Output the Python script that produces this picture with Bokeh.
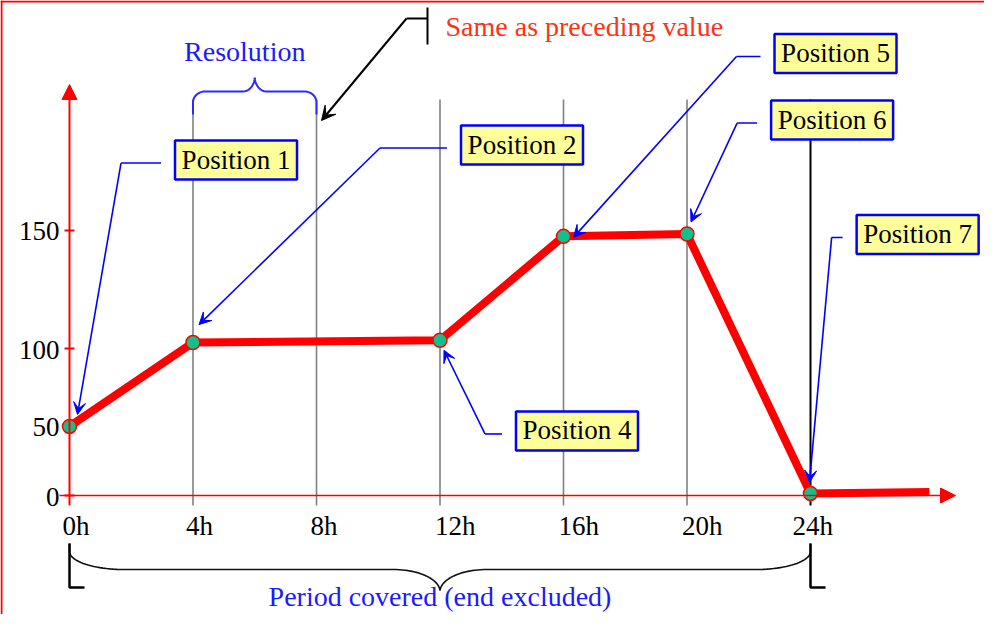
import numpy as np
from bokeh.plotting import figure
from bokeh.models import Range1d, Arrow, VeeHead, NormalHead
from bokeh.core.properties import value
from bokeh.embed import file_html
from bokeh.resources import INLINE

# ---------------- data ----------------
HOURS = [0, 4, 12, 16, 20, 24]
VALUES = [50, 102.5, 103.5, 147.5, 148.5, 1.5]
POSITION_LABELS = ["Position 1", "Position 2", "Position 4", "Position 5", "Position 6", "Position 7"]
TAIL_HOURS = [24, 27.85]
TAIL_VALUES = [1.5, 2.5]
X_TICKS = [0, 4, 8, 12, 16, 20, 24]
X_TICK_LABELS = ["0h", "4h", "8h", "12h", "16h", "20h", "24h"]
GRID_HOURS = [4, 8, 12, 16, 20]
PERIOD_END_HOUR = 24
Y_TICKS = [0, 50, 100, 150]
Y_TICK_LABELS = ["0", "50", "100", "150"]
RESOLUTION_SPAN = [4, 8]
PERIOD_SPAN = [0, 24]
SAME_AS_HOUR = 8

# schematic (uneven) placement of the y ticks on the drawing axis
Y_TICK_POS = [0, 47, 100, 180.3]

# ---------------- layout / style ----------------
W, H = 984, 614
PX_H, PX_U = 30.875, 1.47          # pixels per hour, pixels per drawing unit
ORIG_X, ORIG_Y = 69, 495           # origin inside the canvas (px)
FONT = value("Liberation Serif")
RED = "#ff0000"
BLUE = "#0000ff"
TXT_BLUE = "#1a1aff"
GREEN = "#12c08c"
YELLOW = "#ffff99"
TEXT_LIFT = 9                      # px correction for the svg baseline


def dx(px):
    return px / PX_H


def dy(px):
    return px / PX_U


def to_draw(v):
    return np.interp(v, Y_TICKS, Y_TICK_POS)


p = figure(width=W, height=H, output_backend="svg", toolbar_location=None,
           x_range=Range1d(-ORIG_X / PX_H, (W - ORIG_X) / PX_H),
           y_range=Range1d(-(H - ORIG_Y) / PX_U, ORIG_Y / PX_U),
           x_axis_location=None, y_axis_location=None, min_border=0)
p.grid.visible = False
p.outline_line_color = None
p.background_fill_color = "white"
p.border_fill_color = "white"

x0, x1 = p.x_range.start, p.x_range.end
y0, y1 = p.y_range.start, p.y_range.end

# frame lines (left + top)
p.segment(x0=[x0 + dx(1), x0], y0=[y0, y1 - dy(1)], x1=[x0 + dx(1), x1], y1=[y1, y1 - dy(1)],
          line_color=RED, line_width=2)

# vertical grid lines
grid_top = dy(396)
p.segment(x0=GRID_HOURS, y0=[-dy(10)] * len(GRID_HOURS), x1=GRID_HOURS, y1=[grid_top] * len(GRID_HOURS),
          line_color="#808080", line_width=1.6)
p.segment(x0=[PERIOD_END_HOUR], y0=[-dy(10)], x1=[PERIOD_END_HOUR], y1=[grid_top],
          line_color="black", line_width=2)

# axes with arrows
p.add_layout(Arrow(end=NormalHead(size=15, fill_color=RED, line_color=RED, line_width=1),
                   x_start=0, y_start=-dy(10), x_end=0, y_end=dy(411),
                   line_color=RED, line_width=2))
p.add_layout(Arrow(end=NormalHead(size=15, fill_color=RED, line_color=RED, line_width=1),
                   x_start=-dx(10), y_start=0, x_end=dx(886), y_end=0,
                   line_color=RED, line_width=1.6))
ytp = to_draw(Y_TICKS)
p.segment(x0=[-dx(5)] * len(Y_TICKS), y0=ytp, x1=[dx(5)] * len(Y_TICKS), y1=ytp,
          line_color=RED, line_width=2)

# tick labels
p.text(x=[-dx(10)] * len(Y_TICKS), y=ytp - dy(10 - TEXT_LIFT), text=Y_TICK_LABELS,
       text_font=FONT, text_font_size="27px", text_align="right",
       text_baseline="alphabetic", text_color="black")
X_LABEL_DX = [-7, -7, -6, -5, -5, -5, -18]
p.text(x=[h + dx(o) for h, o in zip(X_TICKS, X_LABEL_DX)], y=[-dy(39 - TEXT_LIFT)] * len(X_TICKS),
       text=X_TICK_LABELS, text_font=FONT, text_font_size="27px", text_align="left",
       text_baseline="alphabetic", text_color="black")

# main series
yp = to_draw(VALUES)
tail = to_draw(TAIL_VALUES)
p.line(x=HOURS + TAIL_HOURS[1:], y=list(yp) + list(tail[1:]), line_color=RED,
       line_width=8, line_join="round")
p.scatter(x=HOURS, y=yp, size=14, fill_color=GREEN, line_color=RED, line_width=1.5)


# braces
def brace(ha, hb, y_line, e, rx, ry, c, pk, up=True):
    L = (hb - ha) * PX_H
    t = np.linspace(0, 1, 25)

    def bez(p0, p1, p2, p3):
        p0, p1, p2, p3 = map(np.array, (p0, p1, p2, p3))
        return (((1 - t) ** 3)[:, None] * p0 + (3 * (1 - t) ** 2 * t)[:, None] * p1
                + (3 * (1 - t) * t ** 2)[:, None] * p2 + (t ** 3)[:, None] * p3)

    half = [np.array([[0, -e], [0, -ry]]),
            bez((0, -ry), (0, -0.448 * ry), (0.448 * rx, 0), (rx, 0)),
            np.array([[L / 2 - c, 0]]),
            bez((L / 2 - c, 0), (L / 2 - 0.45 * c, 0), (L / 2 - 0.03 * c, 0.45 * pk), (L / 2, pk))]
    left = np.vstack(half)
    right = left[::-1].copy()
    right[:, 0] = L - right[:, 0]
    pts = np.vstack([left, right])
    sgn = 1 if up else -1
    return ha + pts[:, 0] / PX_H, y_line + sgn * pts[:, 1] / PX_U


bx, by = brace(RESOLUTION_SPAN[0], RESOLUTION_SPAN[1], dy(404), 23, 12, 11, 12, 14, up=True)
p.line(bx, by, line_color="#2a2aff", line_width=2)
bx, by = brace(PERIOD_SPAN[0], PERIOD_SPAN[1], -dy(74), 26, 55, 18, 47, 21, up=False)
p.line(bx, by, line_color="#111111", line_width=1.6)
# end markers of the period
for h in PERIOD_SPAN:
    p.line(x=[h, h, h + dx(15)], y=[-dy(48), -dy(92), -dy(92)], line_color="black", line_width=2.5)

# texts
p.text(x=[(RESOLUTION_SPAN[0] + RESOLUTION_SPAN[1]) / 2 - dx(10)], y=[dy(435 + TEXT_LIFT)], text=["Resolution"],
       text_font=FONT, text_font_size="28px", text_align="center", text_baseline="alphabetic",
       text_color=TXT_BLUE)
p.text(x=[(PERIOD_SPAN[0] + PERIOD_SPAN[1]) / 2], y=[-dy(110 - TEXT_LIFT)], text=["Period covered (end excluded)"],
       text_font=FONT, text_font_size="28px", text_align="center", text_baseline="alphabetic",
       text_color=TXT_BLUE)
p.text(x=[SAME_AS_HOUR + dx(129)], y=[dy(460 + TEXT_LIFT)], text=["Same as preceding value"],
       text_font=FONT, text_font_size="28px", text_align="left", text_baseline="alphabetic",
       text_color="#ff3311")

# "same as preceding value" pointer
bar_h = SAME_AS_HOUR + dx(111)
p.segment(x0=[bar_h], y0=[dy(451)], x1=[bar_h], y1=[dy(488)], line_color="black", line_width=2)
p.segment(x0=[bar_h - dx(21)], y0=[dy(477)], x1=[bar_h], y1=[dy(477)], line_color="black", line_width=2)
p.add_layout(Arrow(end=VeeHead(size=14, fill_color="black", line_color="black", line_width=1),
                   x_start=bar_h - dx(21), y_start=dy(477),
                   x_end=SAME_AS_HOUR + dx(5), y_end=grid_top - dy(21),
                   line_color="black", line_width=2))

# position call-outs
BOX_H_POS = [5.393, 14.656, 16.437, 24.81, 24.70, 27.47]
BOX_Y_POS = [228.2, 238.4, 43.9, 300.7, 255.4, 177.6]
BOX_W, BOX_HT = 122, 39
LEADER_GAP, LEADER_DROP = 14, 3
LEADER_RUN = [40, 67, 17, 24, 20, 11]
TIP_OFF = [(8, 12), (6, 18), (4, -10), (10, -1), (4, 12), (-1, 11)]

for i in range(len(POSITION_LABELS)):
    sx = BOX_H_POS[i] - dx(BOX_W / 2 + LEADER_GAP)
    sy = BOX_Y_POS[i] - dy(LEADER_DROP)
    bxh = sx - dx(LEADER_RUN[i])
    tx = HOURS[i] + dx(TIP_OFF[i][0])
    ty = yp[i] + dy(TIP_OFF[i][1])
    p.segment(x0=[sx], y0=[sy], x1=[bxh], y1=[sy], line_color=BLUE, line_width=1.6)
    p.add_layout(Arrow(end=VeeHead(size=12, fill_color=BLUE, line_color=BLUE, line_width=1),
                       x_start=bxh, y_start=sy, x_end=tx, y_end=ty,
                       line_color=BLUE, line_width=1.6))

p.rect(x=BOX_H_POS, y=BOX_Y_POS, width=BOX_W, height=BOX_HT, width_units="screen",
       height_units="screen", fill_color=YELLOW, line_color=BLUE, line_width=2.5)
p.text(x=BOX_H_POS, y=[y - dy(8.5 - TEXT_LIFT) for y in BOX_Y_POS], text=POSITION_LABELS,
       text_font=FONT, text_font_size="27px", text_align="center", text_baseline="alphabetic",
       text_color="black")

open("out.html", "w").write(file_html(p, INLINE))
